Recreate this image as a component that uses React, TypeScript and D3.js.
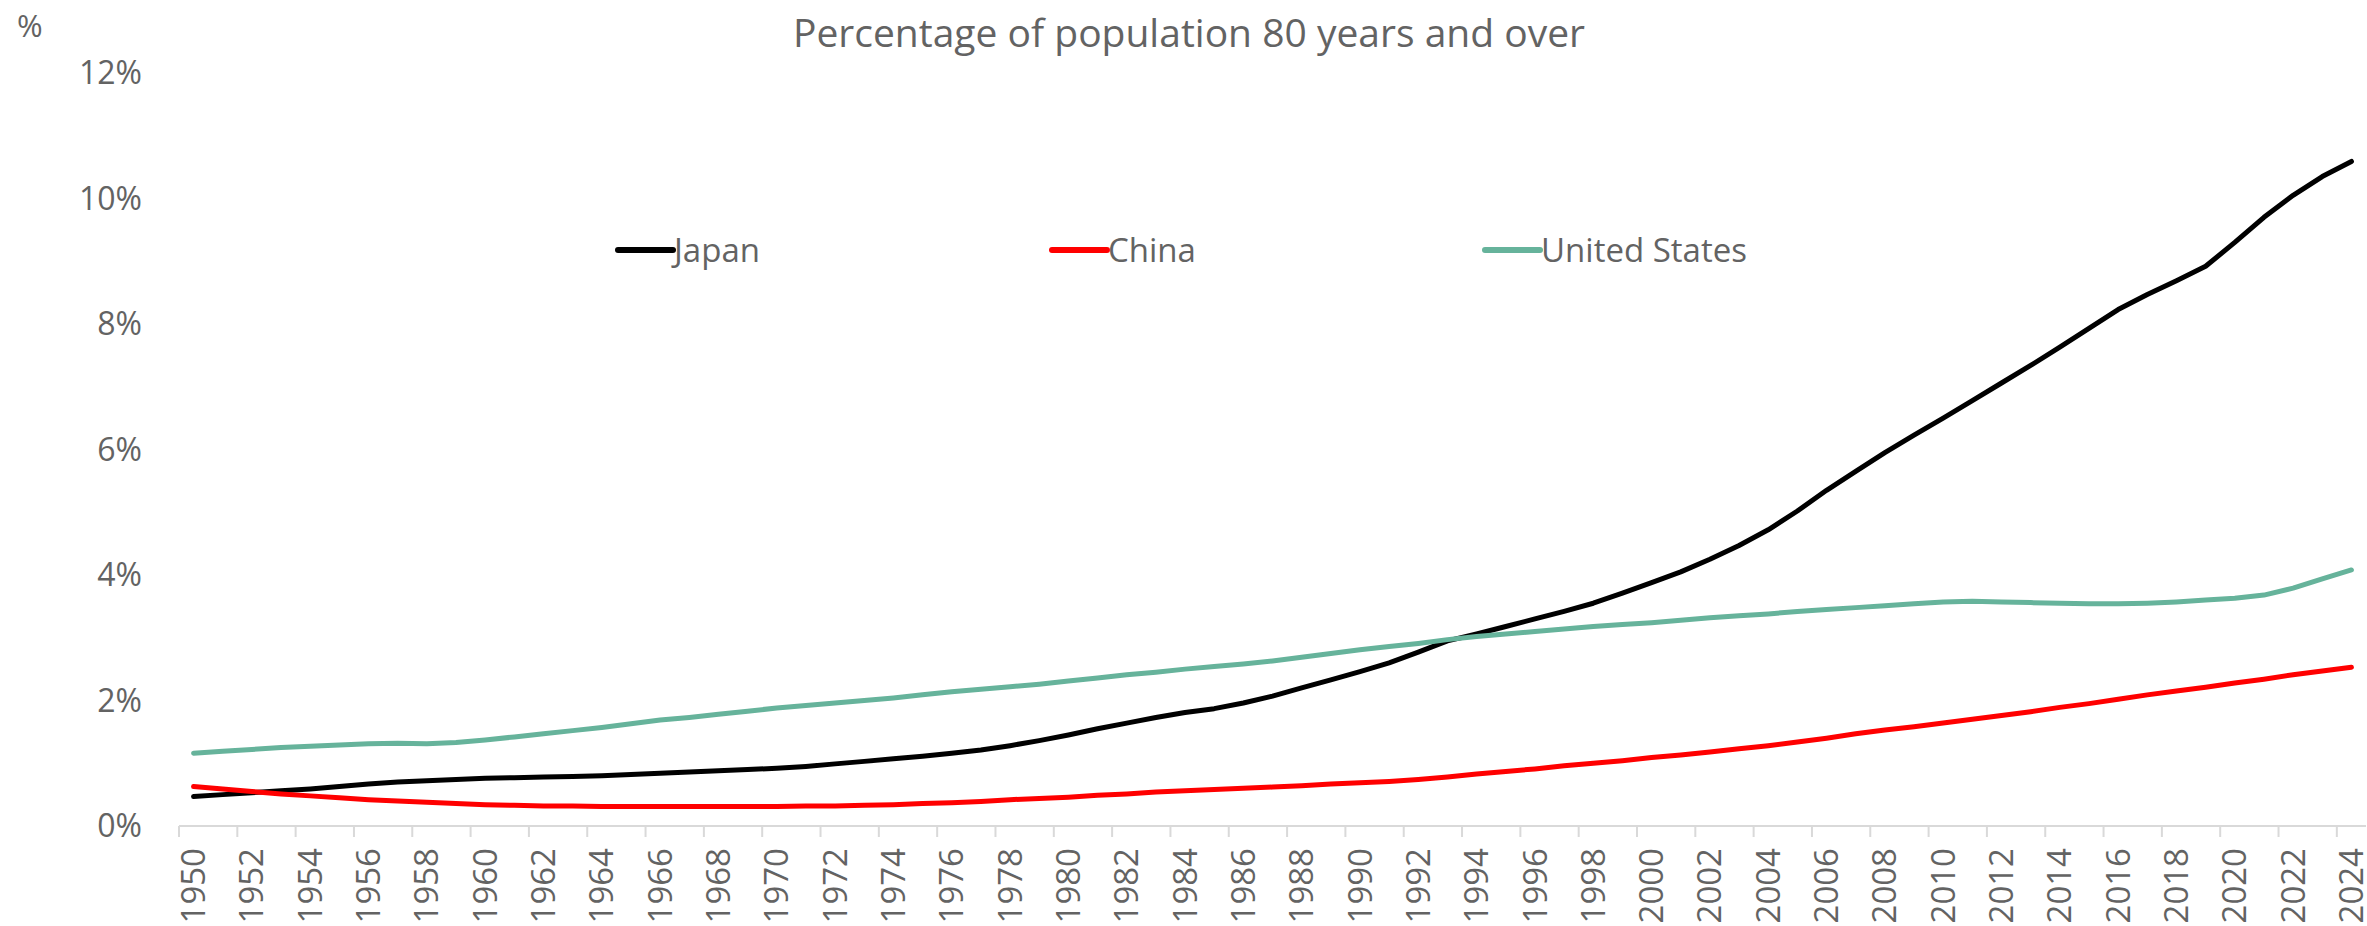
import React from "react";
import * as d3 from "d3";

const years: number[] = d3.range(1950, 2025);

const japan: number[] = [
  0.47, 0.5, 0.53, 0.56, 0.59, 0.63, 0.67, 0.7, 0.72, 0.74,
  0.76, 0.77, 0.78, 0.79, 0.8, 0.82, 0.84, 0.86, 0.88, 0.9,
  0.92, 0.95, 0.99, 1.03, 1.07, 1.11, 1.16, 1.21, 1.28, 1.36,
  1.45, 1.55, 1.64, 1.73, 1.81, 1.87, 1.96, 2.07, 2.2, 2.33,
  2.46, 2.6, 2.77, 2.95, 3.06, 3.18, 3.3, 3.42, 3.55, 3.71,
  3.88, 4.05, 4.25, 4.47, 4.72, 5.02, 5.35, 5.65, 5.95, 6.23,
  6.5, 6.78, 7.06, 7.34, 7.63, 7.93, 8.23, 8.47, 8.69, 8.92,
  9.3, 9.7, 10.05, 10.35, 10.59,
];

const china: number[] = [
  0.63, 0.59, 0.55, 0.51, 0.48, 0.45, 0.42, 0.4, 0.38, 0.36,
  0.34, 0.33, 0.32, 0.32, 0.31, 0.31, 0.31, 0.31, 0.31, 0.31,
  0.31, 0.32, 0.32, 0.33, 0.34, 0.36, 0.37, 0.39, 0.42, 0.44,
  0.46, 0.49, 0.51, 0.54, 0.56, 0.58, 0.6, 0.62, 0.64, 0.67,
  0.69, 0.71, 0.74, 0.78, 0.83, 0.87, 0.91, 0.96, 1.0, 1.04,
  1.09, 1.13, 1.18, 1.23, 1.28, 1.34, 1.4, 1.47, 1.53, 1.58,
  1.64, 1.7, 1.76, 1.82, 1.89, 1.95, 2.02, 2.09, 2.15, 2.21,
  2.28, 2.34, 2.41, 2.47, 2.53,
];

const unitedStates: number[] = [
  1.16, 1.19, 1.22, 1.25, 1.27, 1.29, 1.31, 1.32, 1.31, 1.33,
  1.37, 1.42, 1.47, 1.52, 1.57, 1.63, 1.69, 1.73, 1.78, 1.83,
  1.88, 1.92, 1.96, 2.0, 2.04, 2.09, 2.14, 2.18, 2.22, 2.26,
  2.31, 2.36, 2.41, 2.45, 2.5, 2.54, 2.58, 2.63, 2.69, 2.75,
  2.81, 2.86, 2.91, 2.97, 3.02, 3.06, 3.1, 3.14, 3.18, 3.21,
  3.24, 3.28, 3.32, 3.35, 3.38, 3.42, 3.45, 3.48, 3.51, 3.54,
  3.57, 3.58, 3.57, 3.56, 3.55, 3.54, 3.54, 3.55, 3.57, 3.6,
  3.63, 3.68, 3.79, 3.94, 4.08,
];

const yTicks: number[] = [0, 2, 4, 6, 8, 10, 12];
const xLabelYears: number[] = years.filter((y) => (y - 1950) % 2 === 0);

const seriesNames: string[] = ["Japan", "China", "United States"];
const seriesColors: string[] = ["#000000", "#ff0000", "#66b39b"];
const seriesValues: number[][] = [japan, china, unitedStates];

const titleText = "Percentage of population 80 years and over";
const unitText = "%";

const W = 2367;
const H = 926;
const FONT = "'Open Sans', 'Noto Sans', sans-serif";
const TEXT = "#636363";

export default function App() {
  const x = d3
    .scaleBand<number>()
    .domain(years)
    .range([179, 2366])
    .padding(0);
  const y = d3.scaleLinear().domain([0, 12]).range([826, 73]);
  const cx = (yr: number) => (x(yr) as number) + x.bandwidth() / 2;

  const line = d3
    .line<number>()
    .x((_, i) => cx(years[i]))
    .y((v) => y(v))
    .curve(d3.curveLinear);

  const legendX = [618, 1052, 1485];

  return (
    <svg
      width={W}
      height={H}
      style={{ position: "absolute", left: 0, top: 0, background: "#fff" }}
      fontFamily={FONT}
    >
      <rect x={0} y={0} width={W} height={H} fill="#fff" />
      <text x={1189} y={47} textAnchor="middle" fontSize={39} fill={TEXT}>
        {titleText}
      </text>
      <text x={17} y={37} fontSize={31} fill={TEXT}>
        {unitText}
      </text>

      {yTicks.map((t) => (
        <text
          key={t}
          x={142}
          y={y(t)}
          dy="0.35em"
          textAnchor="end"
          fontSize={32}
          fill={TEXT}
        >
          {t}%
        </text>
      ))}

      <line x1={179} x2={2366} y1={y(0)} y2={y(0)} stroke="#d9d9d9" strokeWidth={2} />
      {xLabelYears.map((yr) => (
        <line
          key={"t" + yr}
          x1={x(yr) as number}
          x2={x(yr) as number}
          y1={y(0)}
          y2={y(0) + 11}
          stroke="#d9d9d9"
          strokeWidth={2}
        />
      ))}
      {xLabelYears.map((yr) => (
        <text
          key={"l" + yr}
          transform={`translate(${cx(yr)},${848}) rotate(-90)`}
          textAnchor="end"
          dy="0.35em"
          fontSize={33}
          fill={TEXT}
        >
          {yr}
        </text>
      ))}

      {seriesValues.map((vals, i) => (
        <path
          key={seriesNames[i]}
          d={line(vals) || ""}
          fill="none"
          stroke={seriesColors[i]}
          strokeWidth={5}
          strokeLinecap="round"
          strokeLinejoin="round"
        />
      ))}

      {seriesNames.map((name, i) => (
        <g key={"lg" + name}>
          <line
            x1={legendX[i]}
            x2={legendX[i] + 55}
            y1={250}
            y2={250}
            stroke={seriesColors[i]}
            strokeWidth={6}
            strokeLinecap="round"
          />
          <text x={legendX[i] + 56} y={250} dy="0.35em" fontSize={33} fill={TEXT}>
            {name}
          </text>
        </g>
      ))}
    </svg>
  );
}
